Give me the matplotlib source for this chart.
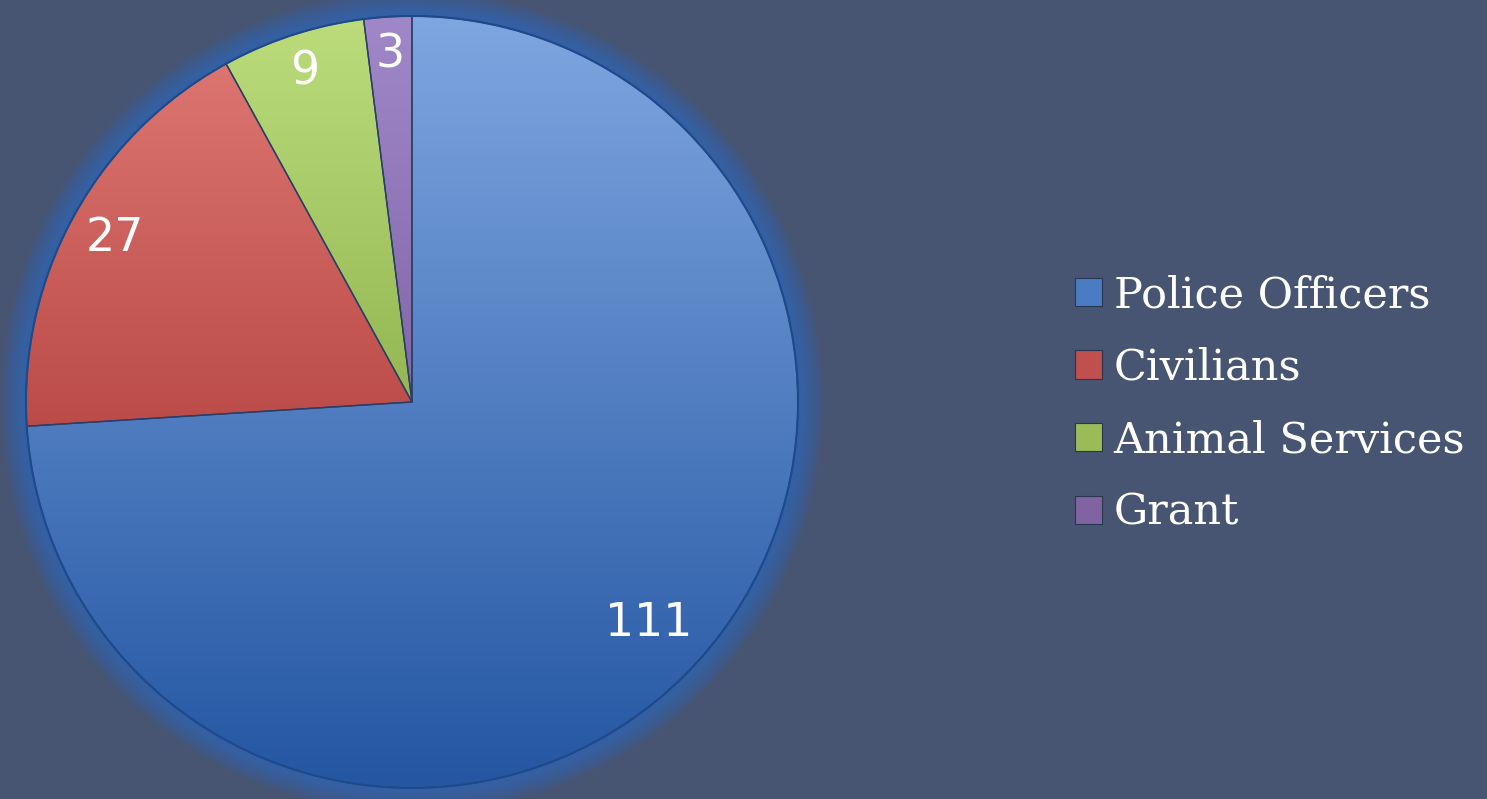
import numpy as np
import matplotlib
matplotlib.use("Agg")
import matplotlib.pyplot as plt
from matplotlib.colors import LinearSegmentedColormap
from matplotlib.patches import Rectangle, Circle

categories = ["Police Officers", "Civilians", "Animal Services", "Grant"]
values = [111, 27, 9, 3]
base_colors = ["#4a7cc4", "#c0504d", "#9bbb59", "#8064a2"]
top_colors = ["#7ea6e0", "#e07a74", "#bcdc7c", "#a088c8"]
bottom_colors = ["#2456a2", "#9a2222", "#6a922a", "#644488"]
label_dist = [0.84, 0.88, 0.90, 0.90]

BG = "#475572"
W, H = 1487, 799
fig = plt.figure(figsize=(W / 100, H / 100), dpi=100, facecolor=BG)

cx, cy, R = 412, 402, 386
half = 420
ax = fig.add_axes([(cx - half) / W, (H - cy - half) / H, 2 * half / W, 2 * half / H])
ax.set_facecolor("none")
lim = half / R
ax.set_xlim(-lim, lim)
ax.set_ylim(-lim, lim)
ax.set_aspect("equal")
ax.axis("off")

# glow around pie
for r in np.linspace(1.065, 1.0, 14):
    ax.add_patch(Circle((0, 0), r, facecolor="#2f6ac0", edgecolor="none",
                        alpha=0.09, zorder=0))

wedges, _ = ax.pie(values, startangle=90, counterclock=False, radius=1.0,
                   colors=base_colors,
                   wedgeprops=dict(edgecolor="#2a3f66", linewidth=1.0))
ax.set_xlim(-lim, lim)
ax.set_ylim(-lim, lim)

grad = np.linspace(0, 1, 256).reshape(-1, 1)
for w, tc, bc in zip(wedges, top_colors, bottom_colors):
    cmap = LinearSegmentedColormap.from_list("g", [bc, tc])
    im = ax.imshow(grad, cmap=cmap, origin="lower", extent=[-1, 1, -1, 1],
                   aspect="auto", zorder=w.get_zorder() + 0.1,
                   interpolation="bilinear")
    im.set_clip_path(w)
    w.set_zorder(w.get_zorder() + 0.2)
    w.set_facecolor("none")

# outer rim
ax.add_patch(Circle((0, 0), 1.0, facecolor="none", edgecolor="#1f4a8a",
                    linewidth=1.5, zorder=5))

for w, v, d in zip(wedges, values, label_dist):
    ang = np.deg2rad((w.theta1 + w.theta2) / 2)
    ax.text(d * np.cos(ang), d * np.sin(ang), str(v), ha="center", va="center",
            color="white", fontsize=33, family="DejaVu Sans", zorder=10)

# legend
handles = [Rectangle((0, 0), 1, 1, facecolor=c, edgecolor="#2a3550", linewidth=0.8)
           for c in base_colors]
leg = fig.legend(handles, categories, loc="center left",
                 bbox_to_anchor=(1036 / W, (H - 404) / H),
                 frameon=False, handlelength=0.63, handleheight=0.63,
                 handletextpad=0.27, labelspacing=0.71,
                 prop=dict(family="DejaVu Serif", size=31))
for t in leg.get_texts():
    t.set_color("white")

fig.savefig("out.png", dpi=100, facecolor=BG)
